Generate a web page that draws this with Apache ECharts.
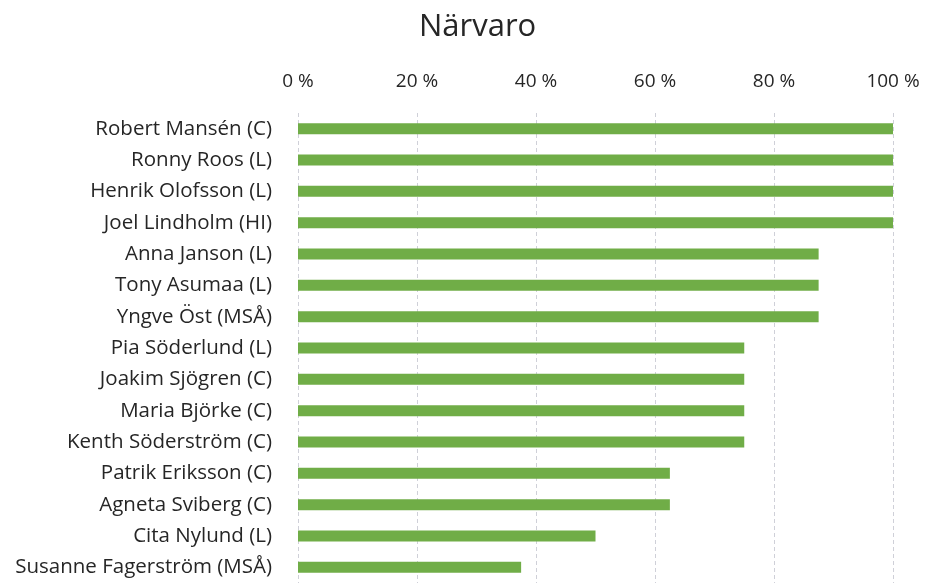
<!DOCTYPE html>
<html>
<head>
<meta charset="utf-8">
<script src="https://cdn.jsdelivr.net/npm/echarts@6/dist/echarts.min.js"></script>
<style>
  html, body { margin: 0; padding: 0; background: #fff; }
  #chart { width: 925px; height: 583px; }
</style>
</head>
<body>
<div id="chart"></div>
<script>
// närvaro per ledamot, andel av möten (0-1)
const names = [
  'Robert Mansén (C)', 'Ronny Roos (L)', 'Henrik Olofsson (L)', 'Joel Lindholm (HI)',
  'Anna Janson (L)', 'Tony Asumaa (L)', 'Yngve Öst (MSÅ)', 'Pia Söderlund (L)',
  'Joakim Sjögren (C)', 'Maria Björke (C)', 'Kenth Söderström (C)', 'Patrik Eriksson (C)',
  'Agneta Sviberg (C)', 'Cita Nylund (L)', 'Susanne Fagerström (MSÅ)'
];
const presence = [
  1, 1, 1, 1,
  0.875, 0.875, 0.875, 0.75,
  0.75, 0.75, 0.75, 0.625,
  0.625, 0.5, 0.375
];

const textColor = '#262626';
const fontFamily = '"Open Sans", Lato, sans-serif';

const chart = echarts.init(document.getElementById('chart'));
chart.setOption({
  animation: false,
  title: {
    text: 'Närvaro',
    left: 414,
    top: 7,
    textStyle: { fontFamily, fontSize: 31, fontWeight: 'normal', color: textColor }
  },
  grid: { left: 298, right: 32, top: 113, bottom: -5, containLabel: false },
  xAxis: {
    type: 'value',
    position: 'top',
    min: 0,
    max: 1,
    interval: 0.2,
    axisLine: { show: false },
    axisTick: { show: false },
    axisLabel: {
      margin: 22,
      color: textColor,
      fontFamily,
      fontSize: 19,
      formatter: v => Math.round(v * 100) + ' %'
    },
    splitLine: { lineStyle: { color: '#cfd0d8', type: [4, 3], width: 1 } }
  },
  yAxis: {
    type: 'category',
    data: names,
    inverse: true,
    axisLine: { show: false },
    axisTick: { show: false },
    axisLabel: { margin: 26, color: textColor, fontFamily, fontSize: 20.5 }
  },
  series: [{
    type: 'bar',
    data: presence,
    barWidth: 11,
    itemStyle: { color: '#70ad47' }
  }]
});
</script>
</body>
</html>
